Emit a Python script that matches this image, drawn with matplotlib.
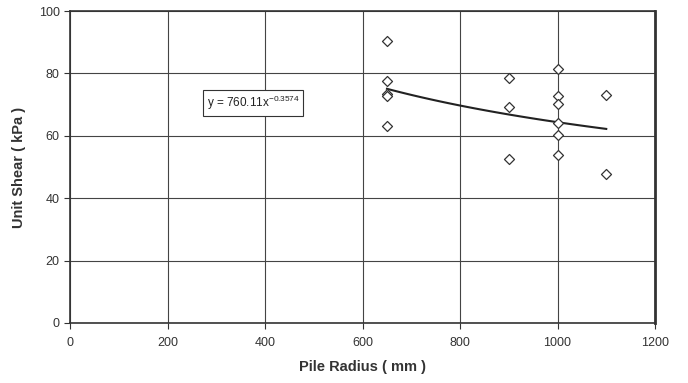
import numpy as np
import matplotlib
matplotlib.use("Agg")
import matplotlib.pyplot as plt

plt.rcParams['font.family'] = ['Liberation Sans', 'DejaVu Sans']
plt.rcParams['mathtext.fontset'] = 'custom'
plt.rcParams['mathtext.rm'] = 'Liberation Sans'
plt.rcParams['mathtext.it'] = 'Liberation Sans'

# measured points
radius = [650, 650, 650, 650, 650,
          900, 900, 900,
          1000, 1000, 1000, 1000, 1000, 1000,
          1100, 1100]
shear = [90.4, 77.6, 73.4, 72.9, 63.0,
         78.4, 69.2, 52.6,
         81.4, 72.8, 70.1, 64.0, 60.2, 53.8,
         73.1, 47.9]

# power trendline y = a * x^b
a_coef = 760.11
b_exp = -0.3574

fig = plt.figure(figsize=(6.88, 3.83), dpi=100)
ax = fig.add_axes([0.102, 0.157, 0.85, 0.814])

xs = np.linspace(min(radius), max(radius), 100)
ax.plot(xs, a_coef * xs ** b_exp, color='#222222', lw=1.5, zorder=3)
ax.scatter(radius, shear, marker='D', s=26, facecolors='white',
           edgecolors='#333333', linewidths=0.9, zorder=4)

ax.text(280, 70.5, r'y = 760.11x$^{\mathrm{-0.3574}}$', fontsize=8.5,
        va='center', ha='left', color='#222222',
        bbox=dict(boxstyle='square,pad=0.3', fc='white', ec='#333333', lw=0.8))

ax.set_xlim(0, 1200)
ax.set_ylim(0, 100)
ax.set_xticks(range(0, 1201, 200))
ax.set_yticks(range(0, 101, 20))
ax.grid(True, color='#444444', lw=0.8)
ax.set_axisbelow(True)

for s in ax.spines.values():
    s.set_color('#333333')
    s.set_linewidth(1.2)
ax.spines['right'].set_linewidth(2)

ax.tick_params(direction='out', length=4, color='#333333', labelsize=9,
               labelcolor='#333333')
ax.tick_params(axis='x', pad=6)

ax.set_xlabel('Pile Radius ( mm )', fontsize=10.5, fontweight='bold',
              color='#333333', labelpad=8)
ax.set_ylabel('Unit Shear ( kPa )', fontsize=10.5, fontweight='bold',
              color='#333333', labelpad=9)

fig.savefig('out.png', dpi=100)
